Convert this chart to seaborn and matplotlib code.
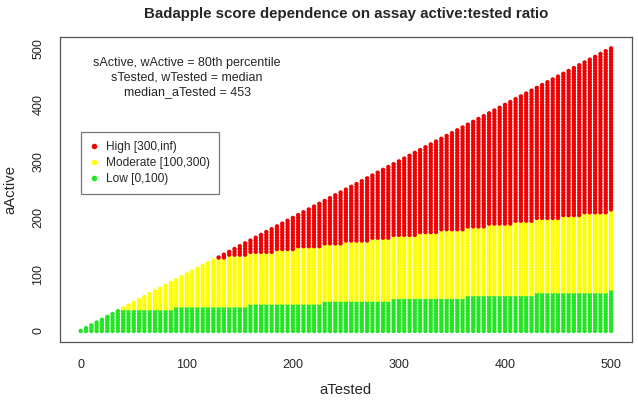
"""Badapple score map: aActive vs aTested grid coloured by score class."""

import numpy as np
import pandas as pd
import matplotlib
matplotlib.use("Agg")
import matplotlib.pyplot as plt
from matplotlib.lines import Line2D
import seaborn as sns

# grid of (aTested, aActive) points, step 5 on both axes
x_columns = np.arange(0, 501, 5)
y_step = 5

# highest aActive still "Low" (step changes at these aTested)
low_start = [0, 90, 160, 230, 295, 365, 430, 500]
low_cap = [35, 40, 45, 50, 55, 60, 65, 70]

# lowest aActive already "High"
high_start = [0, 140, 160, 185, 205, 230, 250, 275, 295, 320,
              340, 365, 385, 410, 430, 455, 475, 500]
high_floor = [130, 135, 140, 145, 150, 155, 160, 165, 170, 175,
              180, 185, 190, 195, 200, 205, 210, 215]

classes = ["High [300,inf)", "Moderate [100,300)", "Low [0,100)"]
colors = ["#F00000", "#FFFF00", "#22E622"]

notes = ["sActive, wActive = 80th percentile",
         "sTested, wTested = median",
         "median_aTested = 453"]


def build_grid():
    rows = []
    for x in x_columns:
        cap = low_cap[np.searchsorted(low_start, x, side="right") - 1]
        floor = high_floor[np.searchsorted(high_start, x, side="right") - 1]
        for y in range(0, x + 1, y_step):
            if y >= floor:
                c = classes[0]
            elif y > cap:
                c = classes[1]
            else:
                c = classes[2]
            rows.append({"aTested": x, "aActive": y, "score": c})
    return pd.DataFrame(rows)


def main():
    df = build_grid()

    sns.set_style("white")
    plt.rcParams["font.family"] = ["Liberation Sans", "DejaVu Sans"]

    fig = plt.figure(figsize=(6.38, 4.01), dpi=100)
    ax = fig.add_axes([0.0933, 0.1464, 0.8977, 0.7613])

    sns.scatterplot(data=df, x="aTested", y="aActive", hue="score",
                    hue_order=classes, palette=colors, s=10, linewidth=0,
                    marker="o", legend=False, ax=ax)

    ax.set_xlim(-20, 520)
    ax.set_ylim(-20, 520)
    ax.set_xticks(range(0, 501, 100))
    ax.set_yticks(range(0, 501, 100))
    ax.tick_params(axis="both", direction="out", length=5, width=0.8,
                   color="#555555", labelsize=9)
    ax.tick_params(axis="x", pad=7)
    ax.tick_params(axis="y", pad=6)
    for lab in ax.get_yticklabels():
        lab.set_rotation(90)
        lab.set_va("center")
    for sp in ax.spines.values():
        sp.set_color("#555555")
        sp.set_linewidth(0.9)

    ax.set_xlabel("aTested", fontsize=10.7, labelpad=9)
    ax.set_ylabel("aActive", fontsize=10.7, labelpad=11)
    fig.suptitle("Badapple score dependence on assay active:tested ratio",
                 x=0.542, y=0.982, fontsize=10.8, fontweight="bold")

    for i, line in enumerate(notes):
        ax.text(0.223, 0.915 - i * 0.048, line, transform=ax.transAxes,
                ha="center", va="center", fontsize=9)

    handles = [Line2D([], [], marker="o", linestyle="", markersize=4,
                      markerfacecolor=c, markeredgewidth=0, label=l)
               for c, l in zip(colors, classes)]
    leg = ax.legend(handles=handles, loc="upper left",
                    bbox_to_anchor=(0.037, 0.688), fontsize=8.6,
                    frameon=True, fancybox=False, handlelength=0.8,
                    handletextpad=0.6, borderpad=0.75, labelspacing=0.32,
                    borderaxespad=0)
    leg.get_frame().set_edgecolor("#555555")
    leg.get_frame().set_linewidth(0.9)

    fig.savefig("out.png", dpi=100)
    plt.close(fig)


if __name__ == "__main__":
    main()
